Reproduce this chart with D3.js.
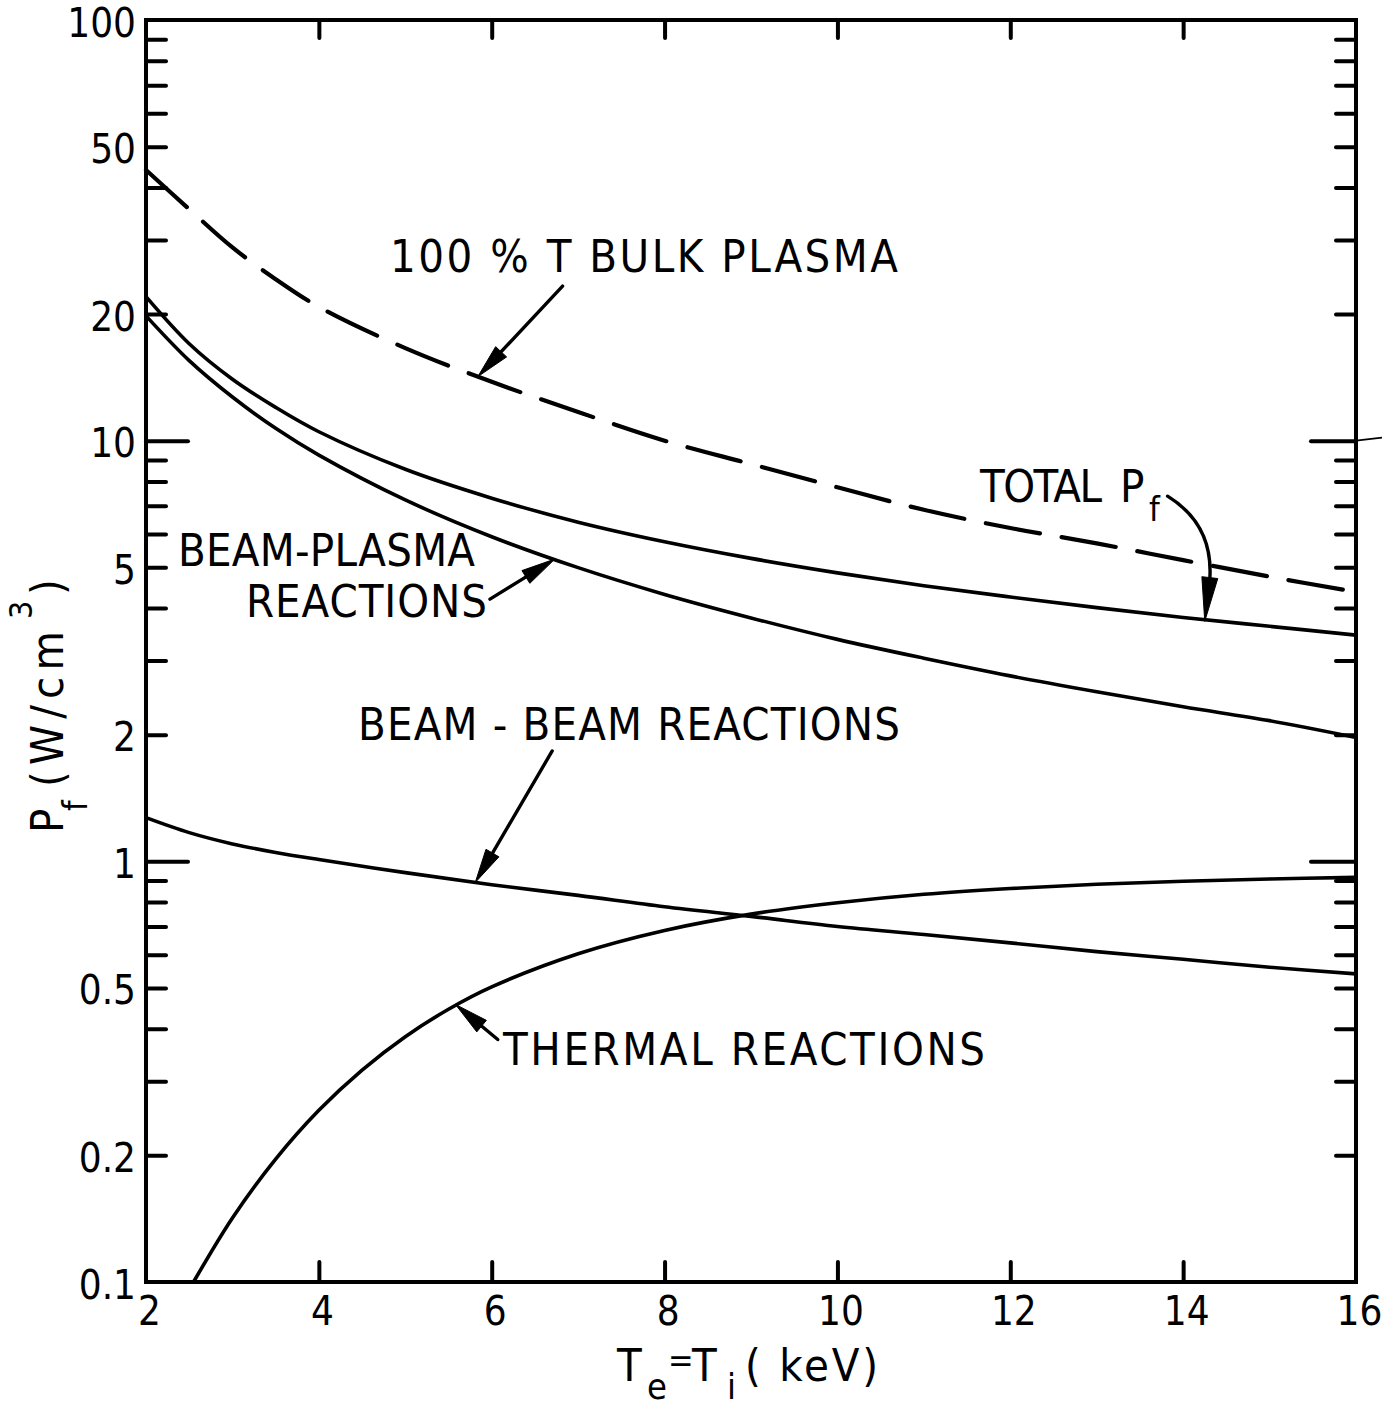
<!DOCTYPE html>
<html>
<head>
<meta charset="utf-8">
<script src="https://cdn.jsdelivr.net/npm/d3@7"></script>
<style>
  html, body { margin: 0; padding: 0; background: #fff; }
  svg text { font-family: "DejaVu Sans Condensed", "DejaVu Sans", sans-serif; font-stretch: condensed; fill: #000; }
</style>
</head>
<body>
<svg id="chart" width="1385" height="1409"></svg>
<script>
// Fusion power density vs. temperature (Te = Ti, keV)
const temperature = [2, 2.5, 3, 3.5, 4, 5, 6, 7, 8, 9, 10, 11, 12, 13, 14, 15, 16];
const bulkPlasma  = [44, 35.5, 28.8, 24.2, 20.8, 16.6, 13.8, 11.7, 10.0, 8.8, 7.75, 6.85, 6.2, 5.7, 5.2, 4.75, 4.37];
const totalPf     = [22, 17.0, 14.0, 12.0, 10.5, 8.55, 7.3, 6.4, 5.75, 5.25, 4.85, 4.52, 4.25, 4.01, 3.80, 3.62, 3.45];
const beamPlasma  = [19.8, 15.5, 12.7, 10.7, 9.24, 7.23, 5.91, 4.99, 4.31, 3.79, 3.37, 3.04, 2.76, 2.53, 2.33, 2.16, 1.97];
const beamBeam    = [1.27, 1.17, 1.10, 1.05, 1.01, 0.94, 0.88, 0.83, 0.78, 0.74, 0.70, 0.67, 0.64, 0.61, 0.585, 0.56, 0.54];
const thermalTemp = [2.55, 3, 3.5, 4, 4.5, 5, 5.5, 6, 7, 8, 9, 10, 11, 12, 13, 14, 15, 16];
const thermal     = [0.10, 0.142, 0.196, 0.256, 0.319, 0.383, 0.445, 0.503, 0.603, 0.685, 0.749, 0.797, 0.835, 0.862, 0.882, 0.897, 0.908, 0.916];

const xTickValues = [2, 4, 6, 8, 10, 12, 14, 16];
const yTickLabels = [0.1, 0.2, 0.5, 1, 2, 5, 10, 20, 50, 100];
const yMajorTicks = [1, 10];

const ink = "#000";
const svg = d3.select("#chart");

const x = d3.scaleLinear().domain([2, 16]).range([146, 1356]);
const y = d3.scaleLog().domain([0.1, 100]).range([1282, 20]);

// ---- frame ----
svg.append("rect")
  .attr("x", x(2)).attr("y", y(100))
  .attr("width", x(16) - x(2)).attr("height", y(0.1) - y(100))
  .attr("fill", "none").attr("stroke", ink).attr("stroke-width", 4);

// ---- tick marks (all pointing inward) ----
const near = (a, b) => Math.abs(a - b) < 1e-9 * Math.max(1, b);
const yMinorTicks = y.ticks().filter(v =>
  v > 0.1 + 1e-9 && v < 100 - 1e-9 && !yMajorTicks.some(m => near(v, m)));

function ticks(axis, transform, values, size) {
  svg.append("g")
    .attr("transform", transform)
    .call(axis.tickValues(values).tickSize(size).tickFormat(""))
    .call(g => g.select(".domain").remove())
    .selectAll("line")
      .attr("stroke", ink).attr("stroke-width", 4).attr("stroke-linecap", "round");
}
const innerX = xTickValues.filter(v => v > 2 && v < 16);
ticks(d3.axisRight(y), `translate(${x(2)},0)`, yMinorTicks, 20);
ticks(d3.axisRight(y), `translate(${x(2)},0)`, yMajorTicks, 42);
ticks(d3.axisLeft(y), `translate(${x(16)},0)`, yMinorTicks, 20);
ticks(d3.axisLeft(y), `translate(${x(16)},0)`, yMajorTicks, 45);
ticks(d3.axisTop(x), `translate(0,${y(0.1)})`, innerX, 20);
ticks(d3.axisBottom(x), `translate(0,${y(100)})`, innerX, 18);

// pen stroke running past the right frame at 10
svg.append("line")
  .attr("x1", x(16)).attr("x2", x(16) + 26)
  .attr("y1", y(10)).attr("y2", y(10) - 3)
  .attr("stroke", ink).attr("stroke-width", 1.6);

// ---- tick labels ----
svg.append("g")
  .attr("transform", `translate(${x(2) - 2},0)`)
  .call(d3.axisLeft(y).tickValues(yTickLabels).tickSize(0).tickPadding(8).tickFormat(d3.format("~g")))
  .call(g => g.select(".domain").remove())
  .selectAll("text")
    .attr("font-size", 40).attr("font-family", null).attr("dy", "0.40em");

svg.append("g")
  .attr("transform", `translate(3,${y(0.1)})`)
  .call(d3.axisBottom(x).tickValues(xTickValues).tickSize(0).tickPadding(15).tickFormat(d3.format("d")))
  .call(g => g.select(".domain").remove())
  .selectAll("text")
    .attr("font-size", 40).attr("font-family", null);

// ---- curves ----
const line = d3.line()
  .x(d => x(d[0]))
  .y(d => y(d[1]))
  .curve(d3.curveCatmullRom.alpha(0.5));

const series = [
  { values: d3.zip(temperature, bulkPlasma), dash: "55,22" },
  { values: d3.zip(temperature, totalPf),    dash: null },
  { values: d3.zip(temperature, beamPlasma), dash: null },
  { values: d3.zip(temperature, beamBeam),   dash: null },
  { values: d3.zip(thermalTemp, thermal),    dash: null }
];

svg.append("g")
  .selectAll("path")
  .data(series)
  .join("path")
    .attr("d", d => line(d.values))
    .attr("fill", "none")
    .attr("stroke", ink)
    .attr("stroke-width", d => d.dash ? 4.2 : 3.6)
    .attr("stroke-dasharray", d => d.dash)
    .attr("stroke-linecap", "round");

// ---- annotation arrows ----
function arrowHead(g, tail, tip, len = 34, half = 7.5) {
  const dx = tip[0] - tail[0], dy = tip[1] - tail[1];
  const L = Math.hypot(dx, dy), ux = dx / L, uy = dy / L;
  const bx = tip[0] - ux * len, by = tip[1] - uy * len;
  const nx = -uy * half, ny = ux * half;
  g.append("path")
    .attr("d", `M${tip[0]},${tip[1]}L${bx + nx},${by + ny}L${bx - nx},${by - ny}Z`)
    .attr("fill", ink).attr("stroke", ink).attr("stroke-width", 1).attr("stroke-linejoin", "round");
  return [bx + ux * 4, by + uy * 4];
}
const arrows = svg.append("g");
function straightArrow(from, to) {
  const tail = [x(from[0]), y(from[1])], tip = [x(to[0]), y(to[1])];
  const base = arrowHead(arrows, tail, tip);
  arrows.append("line")
    .attr("x1", tail[0]).attr("y1", tail[1]).attr("x2", base[0]).attr("y2", base[1])
    .attr("stroke", ink).attr("stroke-width", 3.4).attr("stroke-linecap", "round");
}
straightArrow([6.82, 23.3], [5.84, 14.2]);   // 100 % T bulk plasma
straightArrow([5.98, 4.2],  [6.73, 5.23]);   // beam-plasma
straightArrow([6.70, 1.83], [5.81, 0.891]);  // beam-beam
straightArrow([6.07, 0.377], [5.58, 0.457]); // thermal

// curved arrow for the total
{
  const s = [x(13.82), y(7.38)];
  const e = [x(14.31), y(4.75)];
  const tip = [x(14.25), y(3.72)];
  arrows.append("path")
    .attr("d", `M${s[0]},${s[1]}C${s[0] + 26},${s[1] + 16} ${e[0] + 2},${e[1] - 40} ${e[0]},${e[1]}`)
    .attr("fill", "none").attr("stroke", ink).attr("stroke-width", 3.4).attr("stroke-linecap", "round");
  arrowHead(arrows, e, tip, 44, 8);
}

// ---- labels ----
function label(txt, x0, base, width, size = 45) {
  const t = svg.append("text")
    .attr("x", x0).attr("y", base)
    .attr("font-size", size)
    .text(txt);
  if (width) t.attr("textLength", width).attr("lengthAdjust", "spacing");
  return t;
}
label("100 % T BULK PLASMA", 390, 272, 508);
label("TOTAL", 980, 502, 122);
label("P", 1120, 502, null);
label("f", 1149, 521, null, 34);
label("BEAM-PLASMA", 178, 566, 297);
label("REACTIONS", 246, 617, 241);
label("BEAM - BEAM  REACTIONS", 358, 740, 542);
label("THERMAL  REACTIONS", 503, 1065, 482);

// x-axis title: Te = Ti ( keV)
label("T", 617, 1381, null);
label("e", 647, 1399, null, 36);
label("=", 668, 1372, null, 34);
label("T", 692, 1381, null);
label("i", 727, 1399, null, 36);
label("( keV)", 745, 1381, 133);

// y-axis title: Pf (W/cm3), rotated
{
  const g = svg.append("g").attr("transform", "translate(63,833) rotate(-90)");
  g.append("text").attr("x", 0).attr("y", 0).attr("font-size", 45).text("P");
  g.append("text").attr("x", 22).attr("y", 24).attr("font-size", 34).text("f");
  g.append("text").attr("x", 46).attr("y", 0).attr("font-size", 45)
    .attr("textLength", 156).attr("lengthAdjust", "spacing").text("(W/cm");
  g.append("text").attr("x", 214).attr("y", -31).attr("font-size", 32).text("3");
  g.append("text").attr("x", 238).attr("y", 0).attr("font-size", 45).text(")");
}
</script>
</body>
</html>
